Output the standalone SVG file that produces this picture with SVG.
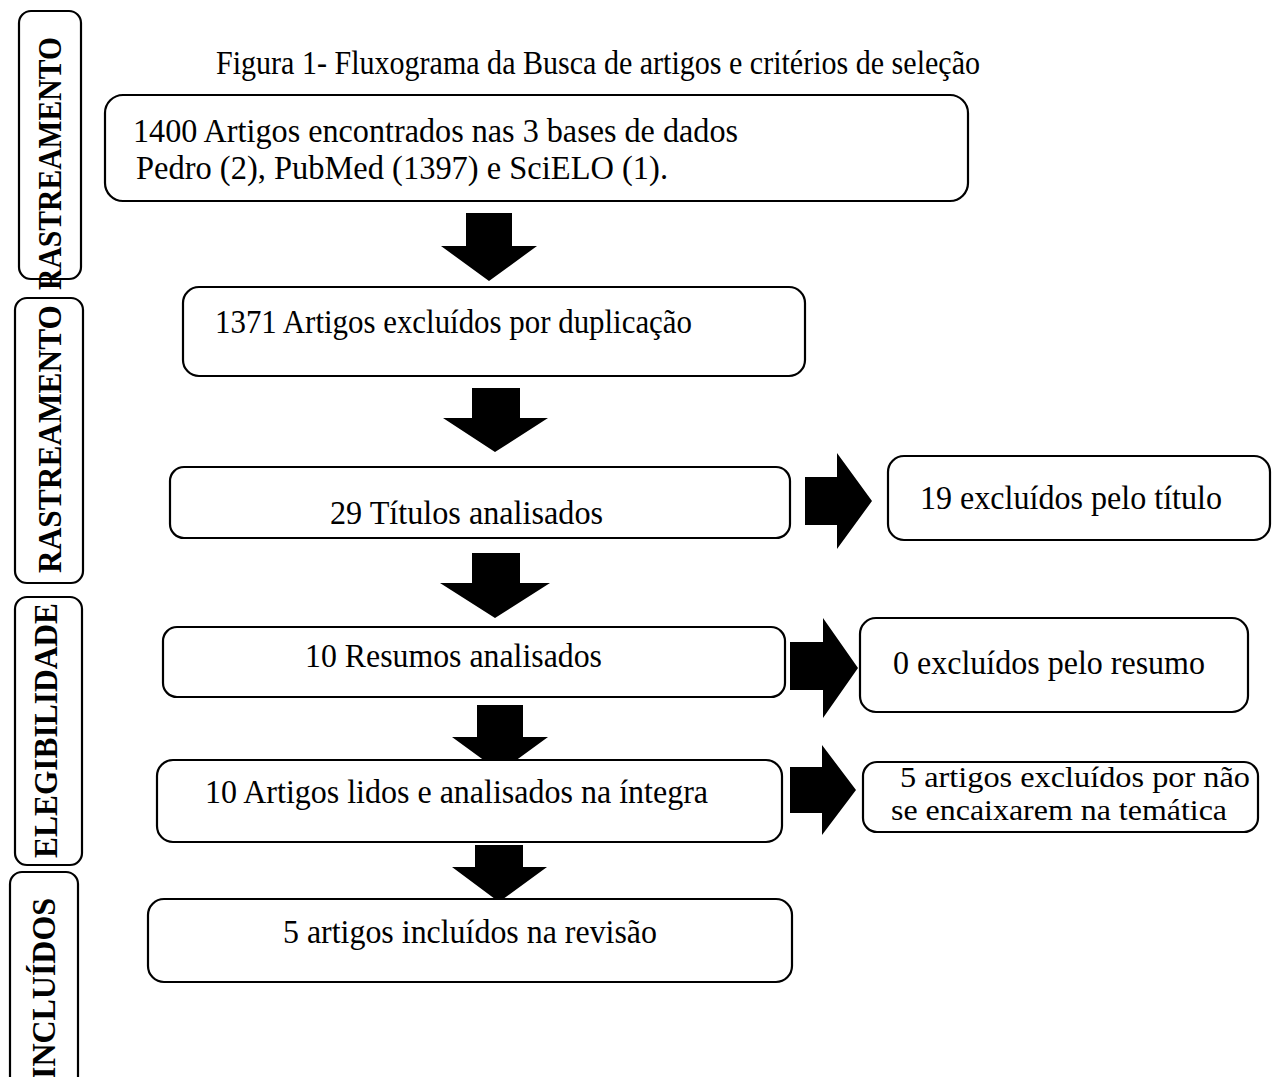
<svg xmlns="http://www.w3.org/2000/svg" width="1283" height="1077" viewBox="0 0 1283 1077">
<style>
.box{fill:#fff;stroke:#000;stroke-width:2.2}
.t{font-family:"Liberation Serif","Times New Roman",serif;font-size:33px;fill:#000}
.s{font-size:30px}
.lab{font-family:"Liberation Serif","Times New Roman",serif;font-size:34px;font-weight:bold;fill:#000}
.arr{fill:#000}
</style>
<rect width="1283" height="1077" fill="#fff"/>
<g id="phase-labels">
<g id="lab1"><rect class="box" x="19" y="11" width="62" height="268" rx="12"/><text class="lab" transform="translate(61,290) rotate(-90)" textLength="253" lengthAdjust="spacingAndGlyphs">RASTREAMENTO</text></g>
<g id="lab2"><rect class="box" x="15" y="298" width="68" height="285" rx="12"/><text class="lab" transform="translate(61,573) rotate(-90)" textLength="268" lengthAdjust="spacingAndGlyphs">RASTREAMENTO</text></g>
<g id="lab3"><rect class="box" x="15" y="597" width="67" height="268" rx="12"/><text class="lab" transform="translate(57,858) rotate(-90)" textLength="255" lengthAdjust="spacingAndGlyphs">ELEGIBILIDADE</text></g>
<g id="lab4"><rect class="box" x="10" y="872" width="68" height="230" rx="12"/><text class="lab" transform="translate(55,1079) rotate(-90)" textLength="181" lengthAdjust="spacingAndGlyphs">INCLUÍDOS</text></g>
</g>
<text id="title" class="t" x="216" y="74" textLength="764" lengthAdjust="spacingAndGlyphs">Figura 1- Fluxograma da Busca de artigos e critérios de seleção</text>
<g id="connectors">
<polygon class="arr" points="466,213 512,213 512,246 537,246 489,281 441,246 466,246"/>
<polygon class="arr" points="472,388 520,388 520,418 548,418 495,452 443,418 472,418"/>
<polygon class="arr" points="472,553 520,553 520,583 550,583 495,618 440,583 472,583"/>
<polygon class="arr" points="477,705 523,705 523,737 548,737 500,772 452,737 477,737"/>
<polygon class="arr" points="475,845 523,845 523,867 547,867 499,902 452,867 475,867"/>
<polygon class="arr" points="805,477 837,477 837,453 872,501 837,549 837,525 805,525"/>
<polygon class="arr" points="790,642 823,642 823,618 858,668 823,718 823,690 790,690"/>
<polygon class="arr" points="790,767 822,767 822,745 856,790 822,835 822,813 790,813"/>
</g>
<g id="n1"><rect class="box" x="105" y="95" width="863" height="106" rx="18"/>
<text class="t" x="133" y="142" textLength="605" lengthAdjust="spacingAndGlyphs">1400 Artigos encontrados nas 3 bases de dados</text>
<text class="t" x="136" y="179" textLength="532" lengthAdjust="spacingAndGlyphs">Pedro (2), PubMed (1397) e SciELO (1).</text></g>
<g id="n2"><rect class="box" x="183" y="287" width="622" height="89" rx="16"/>
<text class="t" x="215" y="333" textLength="477" lengthAdjust="spacingAndGlyphs">1371 Artigos excluídos por duplicação</text></g>
<g id="n3"><rect class="box" x="170" y="467" width="620" height="71" rx="14"/>
<text class="t" x="330" y="524" textLength="273" lengthAdjust="spacingAndGlyphs">29 Títulos analisados</text></g>
<g id="n3x"><rect class="box" x="888" y="456" width="382" height="84" rx="16"/>
<text class="t" x="920" y="509" textLength="302" lengthAdjust="spacingAndGlyphs">19 excluídos pelo título</text></g>
<g id="n4"><rect class="box" x="163" y="627" width="622" height="70" rx="14"/>
<text class="t" x="305" y="667" textLength="297" lengthAdjust="spacingAndGlyphs">10 Resumos analisados</text></g>
<g id="n4x"><rect class="box" x="860" y="618" width="388" height="94" rx="16"/>
<text class="t" x="893" y="674" textLength="312" lengthAdjust="spacingAndGlyphs">0 excluídos pelo resumo</text></g>
<g id="n5"><rect class="box" x="157" y="760" width="625" height="82" rx="16"/>
<text class="t" x="205" y="803" textLength="503" lengthAdjust="spacingAndGlyphs">10 Artigos lidos e analisados na íntegra</text></g>
<g id="n5x"><rect class="box" x="863" y="762" width="395" height="70" rx="14"/>
<text class="t s" x="900" y="787" textLength="350" lengthAdjust="spacingAndGlyphs">5 artigos excluídos por não</text>
<text class="t s" x="891" y="820" textLength="336" lengthAdjust="spacingAndGlyphs">se encaixarem na temática</text></g>
<g id="n6"><rect class="box" x="148" y="899" width="644" height="83" rx="16"/>
<text class="t" x="283" y="943" textLength="374" lengthAdjust="spacingAndGlyphs">5 artigos incluídos na revisão</text></g>
</svg>
